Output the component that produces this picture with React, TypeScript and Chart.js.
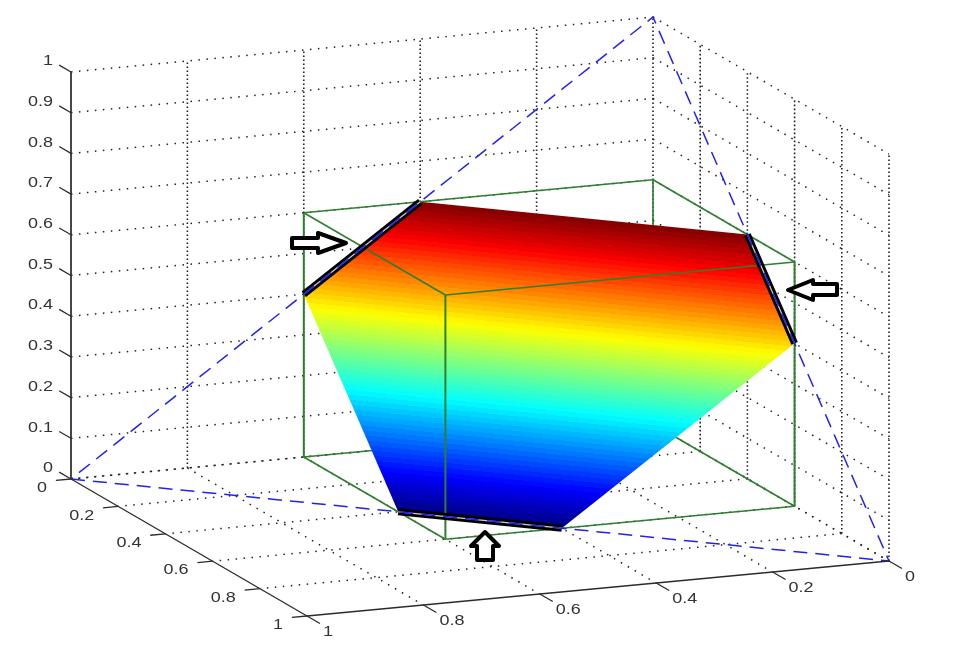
import React, { useEffect, useRef } from "react";
import { Chart, registerables } from "chart.js";

Chart.register(...registerables);

type P3 = [number, number, number];

// Data, in the plot's own unit cube (x, y, z)
const zTicks = [0, 0.1, 0.2, 0.3, 0.4, 0.5, 0.6, 0.7, 0.8, 0.9, 1];
const zLabels = ["0", "0.1", "0.2", "0.3", "0.4", "0.5", "0.6", "0.7", "0.8", "0.9", "1"];
const xyTicks = [0, 0.2, 0.4, 0.6, 0.8, 1];
const xyLabels = ["0", "0.2", "0.4", "0.6", "0.8", "1"];
const simplex: P3[] = [[0, 1, 0], [1, 0, 0], [0, 0, 1], [0, 1, 0]];
const section: P3[] = [
  [0.6, 0.4, 0], [0.4, 0.6, 0], [0, 0.6, 0.4], [0, 0.4, 0.6], [0.4, 0, 0.6], [0.6, 0, 0.4],
];
const boldEdges: P3[][] = [
  [[0, 0.6, 0.4], [0, 0.4, 0.6]],
  [[0.4, 0, 0.6], [0.6, 0, 0.4]],
  [[0.4, 0.6, 0], [0.6, 0.4, 0]],
];
const boxSize = 0.6;
const sectionZMax = 0.6;
const colourLevels = 64;

// View of the cube
const view = { ox: 653, oy: 424, xx: 236, xy: 137, yx: -582, yy: 55, zy: -407 };
const project = ([a, b, c]: P3) => ({
  x: view.ox + view.xx * a + view.yx * b,
  y: view.oy + view.xy * a + view.yy * b + view.zy * c,
});

const jet = (t: number) => {
  const ch = (d: number) => Math.round(255 * Math.max(0, Math.min(1, 1.5 - Math.abs(4 * t - d))));
  return `rgb(${ch(3)},${ch(2)},${ch(1)})`;
};

const seg = (pts: P3[], extra: object) => ({
  data: pts.map(project),
  showLine: true,
  pointRadius: 0,
  tension: 0,
  fill: false,
  ...extra,
});

const FONT = '15.5px "Liberation Sans", Arial, sans-serif';
const TEXT = "#333333";
const GRID = "#222222";
const GREEN = "#2f7f2f";
const BLUE = "#2222f0";

const dotWide = { borderColor: GRID, borderWidth: 1.5, borderDash: [1.5, 6.5] };
const dotTall = { borderColor: GRID, borderWidth: 1.6, borderDash: [1.6, 2.4] };
const axisLine = { borderColor: "#2b2b2b", borderWidth: 1.3 };
const greenLine = { borderColor: GREEN, borderWidth: 1.6 };
const greenPost = { borderColor: GREEN, borderWidth: 2 };

function buildDatasets() {
  const ds: any[] = [];
  // walls and floor
  for (const z of zTicks) {
    ds.push(seg([[0, 1, z], [0, 0, z]], dotWide));
    ds.push(seg([[0, 0, z], [1, 0, z]], dotWide));
  }
  for (const t of xyTicks) {
    if (t < 1) {
      ds.push(seg([[t, 0, 0], [t, 1, 0]], dotWide));
      ds.push(seg([[0, t, 0], [1, t, 0]], dotWide));
      ds.push(seg([[0, t, 0], [0, t, 1]], dotTall));
    }
    if (t > 0) ds.push(seg([[t, 0, 0], [t, 0, 1]], dotTall));
  }
  // hidden box edges
  const s = boxSize;
  for (const e of [[[0, 0, 0], [s, 0, 0]], [[0, 0, 0], [0, s, 0]], [[0, 0, 0], [0, 0, s]]] as P3[][]) {
    ds.push(seg(e, greenLine));
  }
  // the section with its colour ramp
  ds.push({
    ...seg([...section, section[0]], {}),
    fill: "shape",
    borderWidth: 0,
    backgroundColor: (ctx: any) => {
      const { chart } = ctx;
      const a = project([0.5, 0.5, 0]);
      const b = project([0.2, 0.2, sectionZMax]);
      const d = { x: view.xx - view.yx, y: view.xy - view.yy };
      const len = Math.hypot(d.x, d.y);
      const n = { x: -d.y / len, y: d.x / len };
      const k = (b.x - a.x) * n.x + (b.y - a.y) * n.y;
      const g = chart.ctx.createLinearGradient(a.x, a.y, a.x + n.x * k, a.y + n.y * k);
      for (let i = 0; i < colourLevels; i++) {
        const c = jet((i + 0.5) / colourLevels);
        g.addColorStop(i / colourLevels, c);
        g.addColorStop((i + 1) / colourLevels, c);
      }
      return g;
    },
  });
  // visible box edges
  const front: P3[][] = [
    [[s, 0, 0], [s, s, 0]], [[0, s, 0], [s, s, 0]], [[0, 0, s], [s, 0, s]], [[0, 0, s], [0, s, s]],
    [[s, 0, s], [s, s, s]], [[0, s, s], [s, s, s]],
  ];
  for (const e of front) ds.push(seg(e, greenLine));
  const posts: P3[][] = [
    [[s, 0, 0], [s, 0, s]], [[0, s, 0], [0, s, s]], [[s, s, 0], [s, s, s]],
  ];
  for (const e of posts) ds.push(seg(e, greenPost));
  // bold edges
  for (const e of boldEdges) ds.push(seg(e, { borderColor: "#000", borderWidth: 7 }));
  for (const e of boldEdges) ds.push(seg(e, { borderColor: "#cfcfcf", borderWidth: 1.2 }));
  // the dashed triangle
  ds.push(seg(simplex, { borderColor: BLUE, borderWidth: 1.5, borderDash: [14, 8] }));
  // axes and ticks
  ds.push(seg([[0, 1, 0], [1, 1, 0]], axisLine));
  ds.push(seg([[1, 1, 0], [1, 0, 0]], axisLine));
  ds.push(seg([[0, 1, 0], [0, 1, 1]], { borderColor: "#333", borderWidth: 1.8 }));
  for (const t of xyTicks) {
    ds.push(seg([[t, 1, 0], [t, 1.026, 0]], axisLine));
    ds.push(seg([[1, t, 0], [1.055, t, 0]], axisLine));
  }
  for (const z of zTicks) ds.push(seg([[0, 1, z], [-0.05, 1, z]], axisLine));
  return ds.map((d, i) => ({ ...d, order: -i }));
}

// Outline arrows: tip in chart units, with a heading and its own outline
const arrows: { tipX: number; tipY: number; turn: number; shape: [number, number][] }[] = [
  {
    tipX: 346, tipY: 243, turn: 0,
    shape: [[0, 0], [-28, -10], [-28, -5], [-54, -5], [-54, 5], [-28, 5], [-28, 10]],
  },
  {
    tipX: 788, tipY: 290, turn: Math.PI,
    shape: [[0, 0], [-25, -10], [-25, -5], [-49, -5], [-49, 6], [-25, 6], [-25, 10]],
  },
  {
    tipX: 485, tipY: 532, turn: -Math.PI / 2,
    shape: [[0, 0], [-14, -14], [-14, -8], [-28, -8], [-28, 8], [-14, 8], [-14, 14]],
  },
];

const overlay = {
  id: "overlay",
  afterDatasetsDraw(chart: any) {
    const { ctx, scales } = chart;
    ctx.save();
    for (const a of arrows) {
      ctx.save();
      ctx.translate(scales.x.getPixelForValue(a.tipX), scales.y.getPixelForValue(a.tipY));
      ctx.rotate(a.turn);
      ctx.beginPath();
      a.shape.forEach(([x, y], i) => (i ? ctx.lineTo(x, y) : ctx.moveTo(x, y)));
      ctx.closePath();
      ctx.fillStyle = "#fff";
      ctx.fill();
      ctx.strokeStyle = "#000";
      ctx.lineWidth = 4;
      ctx.lineJoin = "round";
      ctx.stroke();
      ctx.restore();
    }
    const label = (s: string, p: { x: number; y: number }, dx: number, dy: number, align: string) => {
      ctx.save();
      ctx.translate(scales.x.getPixelForValue(p.x) + dx, scales.y.getPixelForValue(p.y) + dy);
      ctx.scale(1.16, 1);
      ctx.font = FONT;
      ctx.fillStyle = TEXT;
      ctx.textAlign = align;
      ctx.textBaseline = "middle";
      ctx.fillText(s, 0, 0);
      ctx.restore();
    };
    zTicks.forEach((z, i) => label(zLabels[i], project([0, 1, z]), -18, -11, "right"));
    xyTicks.forEach((t, i) => label(xyLabels[i], project([t, 1, 0]), -24, 9, "right"));
    xyTicks.forEach((t, i) => label(xyLabels[i], project([1, t, 0]), 16, 16, "left"));
    ctx.restore();
  },
};

export default function App() {
  const ref = useRef<HTMLCanvasElement>(null);
  useEffect(() => {
    const chart = new Chart(ref.current!, {
      type: "scatter",
      data: { datasets: buildDatasets() },
      options: {
        animation: false,
        responsive: false,
        devicePixelRatio: 1,
        layout: { padding: 0 },
        plugins: { legend: { display: false }, tooltip: { enabled: false }, title: { display: false } },
        scales: {
          x: { type: "linear", display: false, min: 0, max: 953 },
          y: { type: "linear", display: false, min: 0, max: 654, reverse: true },
        },
      },
      plugins: [overlay],
    } as any);
    return () => chart.destroy();
  }, []);
  return (
    <div style={{ position: "fixed", left: 0, top: 0, width: 953, height: 654, background: "#fff" }}>
      <canvas ref={ref} width={953} height={654} style={{ display: "block", filter: "blur(0.5px)" }} />
    </div>
  );
}
